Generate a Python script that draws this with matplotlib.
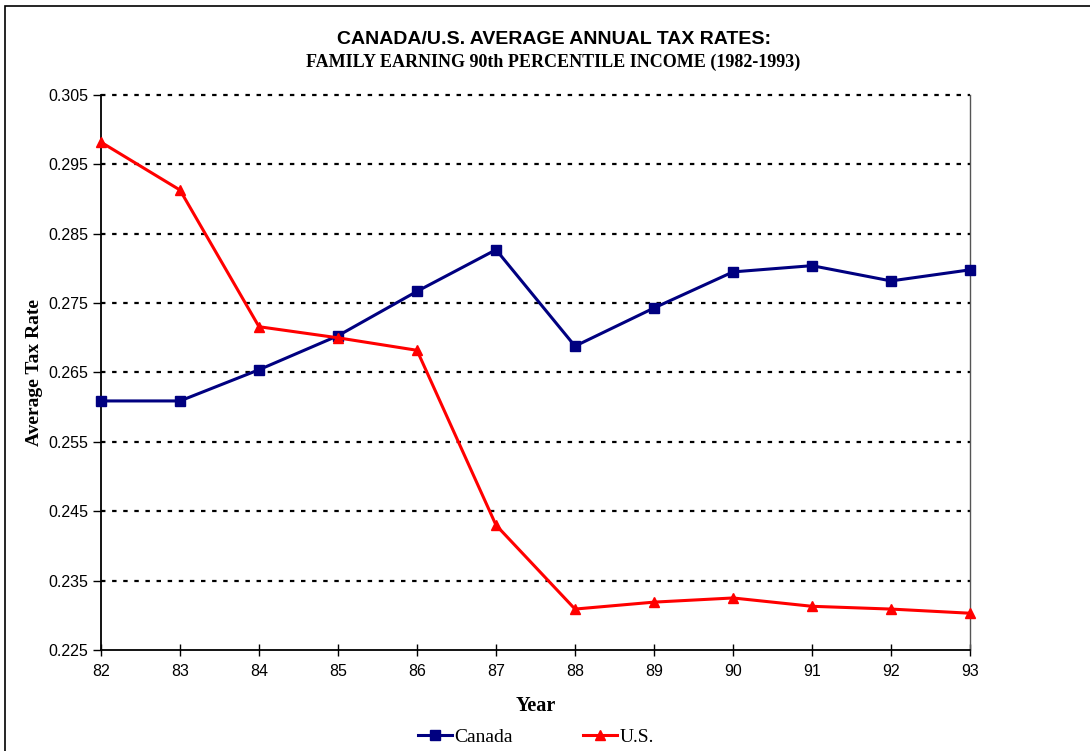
import matplotlib
matplotlib.use("Agg")
import matplotlib.pyplot as plt
from matplotlib.patches import Rectangle

years = ["82", "83", "84", "85", "86", "87", "88", "89", "90", "91", "92", "93"]
canada = [0.2609, 0.2609, 0.2654, 0.2703, 0.2767, 0.2827, 0.2688, 0.2743, 0.2795, 0.2804, 0.2782, 0.2798]
us = [0.2982, 0.2913, 0.2716, 0.2700, 0.2682, 0.2430, 0.2309, 0.2319, 0.2325, 0.2313, 0.2309, 0.2303]
yticks = [0.225, 0.235, 0.245, 0.255, 0.265, 0.275, 0.285, 0.295, 0.305]

W, H = 1090, 751
fig = plt.figure(figsize=(W / 100, H / 100), dpi=100)
ax = fig.add_axes([101 / W, 1 - 650 / H, (970 - 101) / W, (650 - 95) / H])

# outer chart frame
fig.patches.append(Rectangle((5 / W, -0.05), 1.2, 1 - 6 / H + 0.05, transform=fig.transFigure,
                             fill=False, edgecolor="black", linewidth=1.2))

x = list(range(len(years)))
ax.plot(x, canada, color="#000080", marker="s", markersize=7.5, linewidth=2.2, label="Canada",
        zorder=3, clip_on=False)
ax.plot(x, us, color="#ff0000", marker="^", markersize=7.5, linewidth=2.2, label="U.S.",
        zorder=3, clip_on=False)

ax.set_xlim(0, len(years) - 1)
ax.set_ylim(0.225, 0.305)
ax.set_xticks(x)
ax.set_xticklabels(years, fontfamily="Liberation Sans", fontsize=11.5)
ax.set_yticks(yticks)
ax.set_yticklabels([f"{v:.3f}" for v in yticks], fontfamily="Liberation Sans", fontsize=11.5)

for v in yticks[1:]:
    ax.axhline(v, color="black", linestyle=(0, (2, 3)), linewidth=1.6, zorder=1, clip_on=False)

ax.spines["top"].set_visible(False)
ax.spines["left"].set_linewidth(1.3)
ax.spines["bottom"].set_linewidth(1.3)
ax.spines["right"].set_color("#555555")
ax.spines["right"].set_linewidth(1.0)
ax.tick_params(axis="y", direction="out", length=6, width=1, pad=3)
ax.tick_params(axis="x", direction="inout", length=8, width=1, pad=6)

ax.set_xlabel("Year", fontfamily="Liberation Serif", fontweight="bold", fontsize=14.5, labelpad=12)
ax.set_ylabel("Average Tax Rate", fontfamily="Liberation Serif", fontweight="bold", fontsize=14, labelpad=4)

fig.text(554 / W, 1 - 39 / H, "CANADA/U.S. AVERAGE ANNUAL TAX RATES:", ha="center", va="center",
         fontfamily="Liberation Sans", fontweight="bold", fontsize=14)
fig.text(553 / W, 1 - 62 / H, "FAMILY EARNING 90th PERCENTILE INCOME (1982-1993)", ha="center", va="center",
         fontfamily="Liberation Serif", fontweight="bold", fontsize=13)

fig.legend(loc="center", bbox_to_anchor=(536 / W, 1 - 737 / H), ncol=2, frameon=False,
           prop={"family": "Liberation Serif", "size": 14}, handlelength=1.75, handletextpad=0.15,
           columnspacing=3.6, markerscale=0.9)

fig.savefig("out.png", dpi=100)
